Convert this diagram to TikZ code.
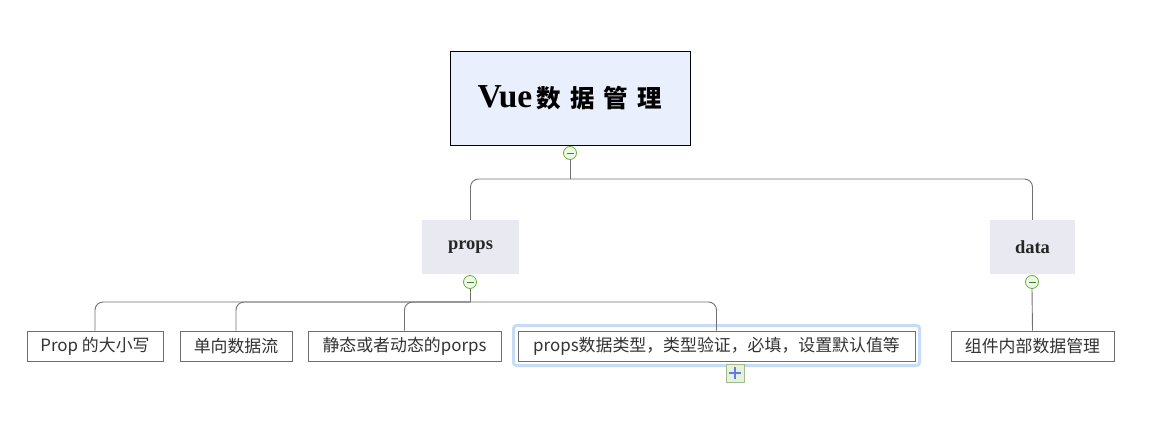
\documentclass[tikz,border=0pt]{standalone}
\usepackage{fontspec}
\setmainfont{Liberation Serif}
\newfontfamily\cjk{Noto Sans CJK SC}
\newfontfamily\cjkb[LetterSpace=38]{Noto Sans CJK SC Bold}
\definecolor{rootfill}{HTML}{E9EFFC}
\definecolor{subfill}{HTML}{E9E9F2}
\definecolor{linec}{HTML}{727272}
\definecolor{boxc}{HTML}{6E6E6E}
\definecolor{txt}{HTML}{333333}
\definecolor{mgreen}{HTML}{6BAF3D}
\definecolor{mfill}{HTML}{EEF8E6}
\definecolor{selc}{HTML}{C7DBF6}
\definecolor{plusb}{HTML}{9DBB8B}
\definecolor{plusf}{HTML}{E6F0DC}
\definecolor{plusc}{HTML}{5B80E0}
\tikzset{
  conn/.style={draw=linec, line width=0.9pt},
  rootbox/.style={draw=black, fill=rootfill, line width=0.8pt, minimum width=240, minimum height=94, inner sep=0},
  subbox/.style={fill=subfill, minimum height=54, inner sep=0, font=\fontsize{18.5}{20}\selectfont\bfseries, text=black!85},
  leafbox/.style={draw=boxc, fill=white, line width=0.8pt, minimum height=30, inner sep=0, font=\cjk\fontsize{16.9}{20}\selectfont, text=txt},
  minus/.style={circle, draw=mgreen, fill=mfill, line width=0.8pt, minimum size=13, inner sep=0},
}
\begin{document}
\begin{tikzpicture}[x=1pt,y=-1pt]
\useasboundingbox[fill=white] (0,0) rectangle (1163,429);
% root
\node[rootbox] (root) at (570,98) {\fontsize{33.5}{34}\selectfont\bfseries Vue\hspace{4pt}{\cjkb\fontsize{24.5}{26}\selectfont 数据管理}};
\node[minus] (m0) at (570,153) {};
\draw[mgreen!70!black, line width=1pt] ([xshift=-3.5]m0.center) -- ([xshift=3.5]m0.center);
% level 1
\node[subbox, minimum width=97] (props) at (470.5,247) {props};
\node[subbox, minimum width=85] (data) at (1032.5,247) {data};
\node[minus] (m1) at (470,282) {};
\draw[mgreen!70!black, line width=1pt] ([xshift=-3.5]m1.center) -- ([xshift=3.5]m1.center);
\node[minus] (m2) at (1032,282) {};
\draw[mgreen!70!black, line width=1pt] ([xshift=-3.5]m2.center) -- ([xshift=3.5]m2.center);
\coordinate (j0) at (570,179);
\draw[conn] (m0.south) -- (j0);
\draw[conn, rounded corners=8] (j0) -| (props.north);
\draw[conn, rounded corners=8] (j0) -| (data.north);
% leaves
\node[draw=selc, line width=3pt, rounded corners=3, minimum width=406, minimum height=40, inner sep=0] (sel) at (716.5,345.5) {};
\node[leafbox, minimum width=136] (c1) at (95,346) {Prop 的大小写};
\node[leafbox, minimum width=112] (c2) at (236,346) {单向数据流};
\node[leafbox, minimum width=193] (c3) at (404.5,346) {静态或者动态的porps};
\node[leafbox, minimum width=397] (c4) at (716.5,346) {props数据类型，类型验证，必填，设置默认值等};
\node[leafbox, minimum width=163] (c5) at (1032.5,346) {组件内部数据管理};
\coordinate (j1) at (470,302);
\draw[conn] (m1.south) -- (j1);
\foreach \c in {c1,c2,c3,c4} \draw[conn, rounded corners=8] (j1) -| (\c.north);
\draw[conn] (m2.south) -- (c5.north);
% plus
\node[draw=plusb, fill=plusf, minimum size=18, inner sep=0, line width=0.8pt] (plus) at (735,373) {};
\draw[plusc, line width=2.6pt] ([xshift=-6]plus.center) -- ([xshift=6]plus.center);
\draw[plusc, line width=2.6pt] ([yshift=-6]plus.center) -- ([yshift=6]plus.center);
\end{tikzpicture}
\end{document}
